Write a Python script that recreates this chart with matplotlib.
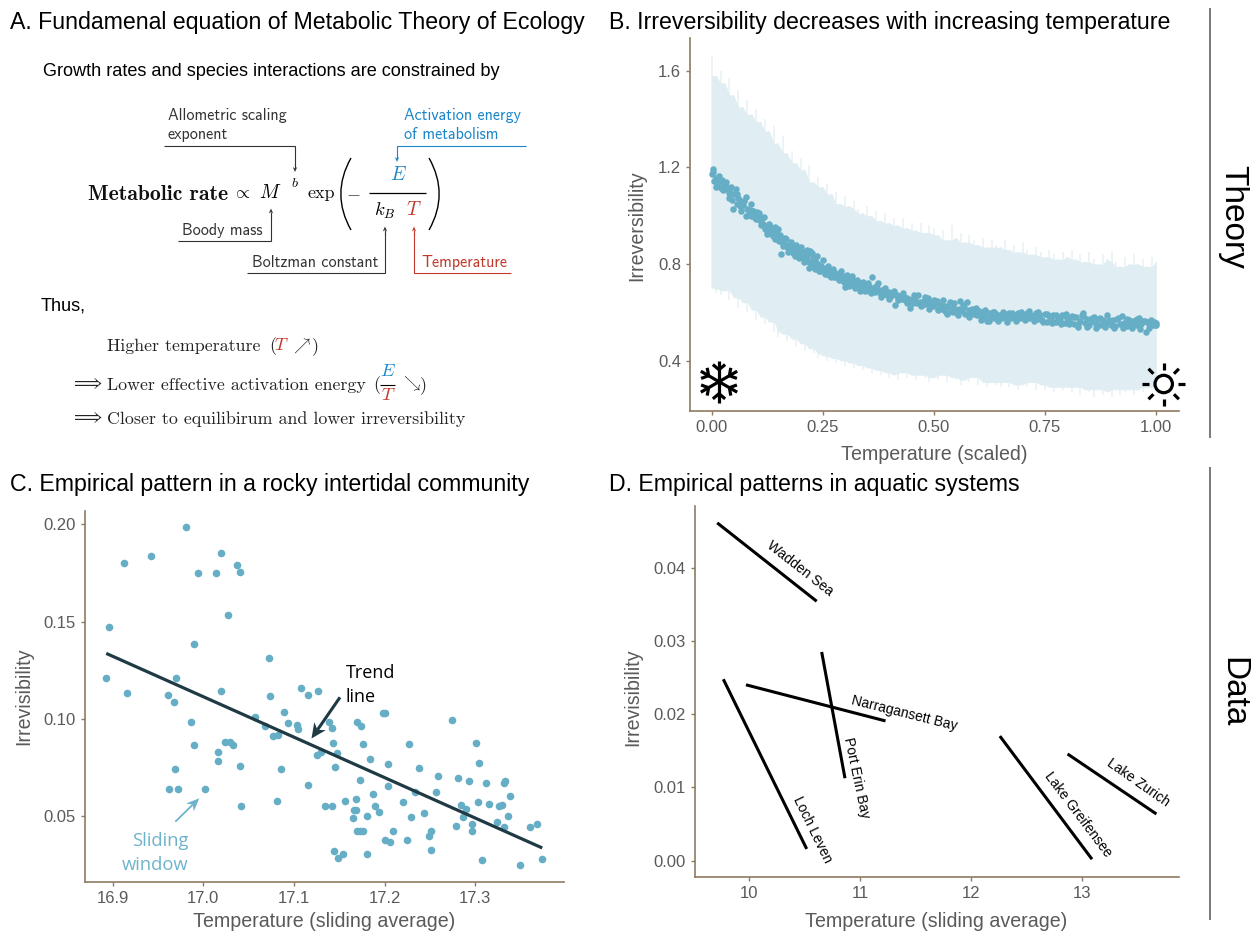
import numpy as np
import matplotlib
matplotlib.use("Agg")
import matplotlib.pyplot as plt
from matplotlib.path import Path
from matplotlib.patches import PathPatch, Circle, Polygon

plt.rcParams['font.family'] = ['Liberation Sans', 'DejaVu Sans']
plt.rcParams['mathtext.fontset'] = 'cm'

# ---------- Panel B data ----------
ribbon_x = [i / 100 for i in range(101)]
ribbon_upper = [1.66,1.58,1.60,1.55,1.57,1.50,1.52,1.45,1.48,1.42,1.44,1.39,1.40,1.35,1.37,1.30,1.33,1.26,1.27,1.22,
                1.24,1.19,1.21,1.14,1.16,1.12,1.13,1.09,1.10,1.05,1.08,1.04,1.06,1.03,1.01,1.04,1.00,1.02,.98,1.01,
                .97,.99,.96,.99,.95,.97,.94,.97,.93,.96,.95,.92,.94,.90,.96,.91,.93,.89,.92,.90,
                .88,.91,.87,.90,.88,.87,.90,.86,.88,.85,.89,.86,.84,.87,.85,.83,.86,.84,.82,.85,
                .83,.86,.82,.84,.81,.85,.82,.80,.84,.82,.85,.81,.79,.83,.80,.84,.80,.82,.79,.83,.81]
ribbon_lower = [.70,.68,.67,.69,.65,.66,.62,.64,.60,.61,.57,.58,.55,.56,.52,.50,.51,.48,.49,.46,
                .47,.44,.45,.43,.41,.42,.40,.41,.39,.40,.38,.39,.37,.38,.36,.37,.35,.36,.34,.35,
                .33,.34,.32,.35,.33,.34,.32,.34,.33,.31,.33,.32,.34,.31,.33,.32,.30,.32,.31,.33,
                .30,.31,.29,.31,.30,.29,.31,.29,.30,.28,.30,.29,.31,.28,.30,.28,.29,.27,.29,.28,
                .29,.27,.29,.26,.28,.27,.25,.28,.26,.27,.25,.28,.26,.27,.28,.26,.28,.27,.29,.28,.29]
theory_x = [.000,.002,.004,.006,.009,.012,.014,.018,.021,.024,.028,.031,.035,.038,.042,.046,.049,.051,.054,.056,
            .060,.063,.067,.070,.0765,.080,.083,.086,.089,.092,.095,.098,.101,.104,.107,.110,.113,.116,.119,.122,
            .125,.128,.131,.134,.137,.140,.143,.146,.149,.152,.155,.158,.161,.164,.167,.170,.173,.176,.179,.182,
            .185,.188,.191,.194,.197,.200,.203,.206,.209,.212,.215,.218,.221,.224,.227,.230,.233,.236,.239,.242,
            .245,.248,.251,.254,.257,.260,.263,.266,.269,.272,.275,.278,.281,.284,.287,.290,.293,.296,.300,.303,
            .306,.309,.312,.315,.318,.321,.324,.327,.330,.333,.336,.339,.342,.345,.348,.351,.354,.357,.360,.364,
            .368,.372,.375,.379,.383,.387,.391,.395,.399,.403,.407,.410,.413,.416,.420,.424,.428,.432,.436,.440,
            .443,.446,.450,.454,.458,.462,.465,.469,.473,.477,.481,.484,.487,.491,.495,.499,.503,.506,.510,.514,
            .518,.522,.526,.530,.533,.536,.540,.544,.548,.552,.556,.559,.563,.567,.570,.574,.578,.582,.586,.590,
            .594,.598,.602,.606,.610,.614,.620,.624,.628,.632,.636,.640,.644,.649,.654,.659,.664,.669,.674,.679,
            .684,.689,.694,.699,.704,.709,.714,.719,.724,.729,.734,.739,.744,.749,.754,.759,.764,.769,.774,.779,
            .784,.789,.794,.798,.802,.806,.811,.816,.820,.825,.830,.833,.836,.840,.845,.850,.855,.860,.865,.870,
            .875,.880,.885,.889,.893,.898,.903,.908,.913,.918,.924,.929,.934,.939,.944,.949,.954,.958,.961,.966,
            .971,.977,.980,.984,.988,.991,.994,.997,1.000,1.001]
theory_y = [1.172,1.180,1.192,1.145,1.155,1.130,1.150,1.140,1.115,1.148,1.125,1.110,1.120,1.095,1.100,1.065,1.030,1.090,1.110,1.050,
            1.075,1.040,1.060,1.045,1.078,1.030,1.010,1.025,1.000,1.020,1.005,.990,1.015,.985,1.000,.975,.990,.965,.945,.955,
            .940,.960,.930,.950,.915,.935,.905,.925,.945,.895,.840,.890,.900,.880,.905,.870,.880,.865,.872,.855,
            .870,.835,.860,.845,.850,.830,.855,.825,.845,.815,.835,.785,.854,.800,.825,.790,.815,.785,.800,.770,
            .790,.775,.785,.765,.780,.760,.775,.752,.765,.770,.745,.765,.748,.760,.742,.755,.735,.750,.705,.745,
            .728,.740,.722,.735,.715,.732,.710,.728,.705,.720,.700,.715,.698,.712,.695,.708,.690,.705,.745,.695,
            .685,.700,.722,.680,.692,.675,.688,.670,.685,.668,.680,.675,.629,.672,.660,.668,.655,.665,.650,.660,
            .645,.618,.655,.640,.650,.638,.673,.645,.632,.648,.635,.642,.661,.630,.645,.628,.640,.647,.615,.632,
            .612,.628,.605,.625,.600,.645,.618,.600,.615,.598,.612,.647,.605,.622,.595,.642,.610,.600,.612,.592,
            .608,.590,.606,.585,.602,.580,.563,.598,.585,.600,.578,.594,.582,.590,.576,.592,.580,.596,.578,.590,
            .582,.598,.576,.592,.584,.596,.578,.590,.582,.598,.574,.588,.568,.592,.560,.585,.572,.590,.562,.578,
            .570,.588,.558,.595,.572,.560,.584,.554,.580,.550,.566,.590,.597,.558,.572,.548,.566,.582,.552,.574,
            .546,.570,.552,.588,.560,.548,.568,.544,.572,.550,.587,.556,.544,.570,.548,.564,.546,.572,.578,.552,
            .566,.518,.562,.552,.570,.546,.560,.548,.556,.549]
theory_x2 = [.010,.016,.026,.033,.040,.044,.058,.065,.072,.078,.088,.094,.100,.106,.112,.118,.124,.130,.136,.142,
             .148,.154,.160,.166,.172,.178,.184,.190,.196,.202,.208,.214,.220,.226,.232,.238,.244,.250,.256,.262,
             .268,.274,.280,.286,.292,.298,.304,.310,.316,.322,.328,.334,.340,.346,.352,.358,.370,.380,.390,.400,
             .410,.420,.430,.440,.455,.470,.480,.490,.500,.510,.520,.530,.545,.555,.565,.580,.595,.605,.615,.625,
             .635,.645,.655,.665,.675,.685,.695,.705,.715,.725,.735,.745,.755,.765,.775,.785,.795,.805,.815,.825,
             .835,.845,.855,.865,.875,.885,.895,.905,.915,.925,.935,.945,.955,.965,.975,.985,.995]
theory_y2 = [1.120,1.165,1.105,1.140,1.075,1.120,1.090,1.020,1.060,1.000,1.048,1.020,.985,1.010,.960,.995,.925,.965,.925,.955,
             .905,.920,.875,.910,.850,.890,.845,.880,.825,.870,.810,.860,.810,.845,.780,.835,.770,.815,.760,.790,
             .745,.780,.745,.735,.770,.725,.755,.710,.750,.700,.735,.690,.725,.690,.720,.680,.710,.665,.700,.655,
             .690,.650,.680,.640,.670,.625,.665,.615,.650,.610,.650,.595,.640,.590,.630,.580,.620,.570,.610,.565,
             .600,.565,.600,.560,.597,.565,.600,.570,.605,.565,.600,.560,.595,.555,.590,.550,.585,.550,.580,.540,
             .585,.540,.575,.535,.575,.540,.570,.535,.575,.535,.572,.535,.570,.530,.565,.535,.560]
temp_ticks_b = [0.0, 0.25, 0.5, 0.75, 1.0]
temp_labels_b = ['0.00', '0.25', '0.50', '0.75', '1.00']
irr_ticks_b = [0.4, 0.8, 1.2, 1.6]
irr_labels_b = ['0.4', '0.8', '1.2', '1.6']

# ---------- Panel C data ----------
rocky_x = [16.981,16.942,16.913,17.020,17.037,17.041,16.994,17.014,17.027,16.896,16.990,17.072,16.893,16.970,16.916,16.961,
           16.968,17.020,17.074,17.108,17.116,17.127,17.057,17.089,17.093,16.986,17.103,17.104,17.068,17.077,17.083,16.990,
           17.024,17.029,17.033,17.016,17.016,16.969,17.041,17.086,17.116,16.962,16.972,17.002,17.081,17.042,17.134,17.126,
           17.130,17.139,17.142,17.143,17.148,17.145,17.142,17.156,17.168,17.166,17.169,17.165,17.181,17.187,17.190,17.194,
           17.173,17.170,17.174,17.176,17.184,17.198,17.200,17.204,17.204,17.227,17.238,17.259,17.234,17.257,17.220,17.229,
           17.243,17.209,17.170,17.173,17.176,17.201,17.206,17.225,17.251,17.249,17.251,17.144,17.149,17.154,17.181,17.274,
           17.301,17.304,17.281,17.293,17.312,17.333,17.332,17.338,17.303,17.315,17.326,17.330,17.284,17.290,17.287,17.279,
           17.296,17.297,17.324,17.332,17.336,17.360,17.368,17.308,17.349,17.374]
rocky_y = [.1985,.1840,.1800,.1855,.1790,.1757,.1752,.1752,.1533,.1474,.1387,.1313,.1210,.1209,.1132,.1123,
           .1087,.1142,.1116,.1158,.1122,.1144,.1012,.1036,.0981,.0983,.0967,.0949,.0966,.0914,.0918,.0868,
           .0884,.0884,.0868,.0829,.0784,.0743,.0757,.0743,.0661,.0639,.0639,.0639,.0580,.0553,.0553,.0813,
           .0832,.0983,.0952,.0878,.0824,.0752,.0555,.0579,.0589,.0534,.0532,.0490,.0503,.0613,.0553,.0522,
           .0685,.0983,.0966,.0870,.0793,.1029,.1029,.0767,.0656,.0870,.0746,.0707,.0627,.0627,.0575,.0496,
           .0519,.0423,.0424,.0424,.0423,.0376,.0368,.0376,.0423,.0399,.0327,.0323,.0287,.0305,.0305,.0993,
           .0875,.0774,.0699,.0681,.0671,.0681,.0671,.0606,.0573,.0565,.0553,.0560,.0558,.0536,.0495,.0452,
           .0459,.0423,.0469,.0445,.0502,.0443,.0460,.0274,.0250,.0282]
trend_x = [16.893, 17.374]
trend_y = [.1337, .0337]
temp_ticks_c = [16.9, 17.0, 17.1, 17.2, 17.3]
temp_labels_c = ['16.9', '17.0', '17.1', '17.2', '17.3']
irr_ticks_c = [.05, .10, .15, .20]
irr_labels_c = ['0.05', '0.10', '0.15', '0.20']

# ---------- Panel D data ----------
system_names = ['Wadden Sea', 'Loch Leven', 'Narragansett Bay', 'Port Erin Bay', 'Lake Greifensee', 'Lake Zurich']
system_x = [[9.714, 10.61], [9.769, 10.52], [9.973, 11.23], [10.655, 10.865], [12.26, 13.09], [12.87, 13.67]]
system_y = [[.0461, .0354], [.02476, .0016], [.0240, .01907], [.02848, .01125], [.0170, .0002], [.01456, .00637]]
label_x = [10.46, 10.57, 11.40, 10.97, 12.96, 13.51]
label_y = [.0399, .00419, .02004, .01129, .0063, .01058]
label_rot = [-38, -64, -14, -78, -53, -35]
temp_ticks_d = [10, 11, 12, 13]
temp_labels_d = ['10', '11', '12', '13']
irr_ticks_d = [0, .01, .02, .03, .04]
irr_labels_d = ['0.00', '0.01', '0.02', '0.03', '0.04']

# ---------- Styles ----------
W, H = 1252, 932
SPINE = '#8F7A62'
TICK_TXT = '#5A5A5A'
POINT = '#66AEC5'
RIBBON = '#E0EDF2'
SPIKE = '#EAF3F6'
DARK = '#1F3A44'
BLUE = '#1A85C8'
RED = '#C0392B'
SLIDE = '#6DB3CB'
GREY = '#333333'
INK = '#222222'

fig = plt.figure(figsize=(W / 100, H / 100), dpi=100, facecolor='white')


def make_axes(l, t, r, b, xlim, ylim, xt, xl, yt, yl):
    ax = fig.add_axes([l / W, 1 - b / H, (r - l) / W, (b - t) / H])
    ax.set_xlim(*xlim)
    ax.set_ylim(*ylim)
    for s in ('top', 'right'):
        ax.spines[s].set_visible(False)
    for s in ('left', 'bottom'):
        ax.spines[s].set_color(SPINE)
        ax.spines[s].set_linewidth(1.2)
    ax.set_xticks(xt, xl)
    ax.set_yticks(yt, yl)
    ax.tick_params(length=3, width=1.0, color=SPINE, labelcolor=TICK_TXT, labelsize=12, pad=3.5)
    return ax


ov = fig.add_axes([0, 0, 1, 1], zorder=10)
ov.set_xlim(0, W)
ov.set_ylim(H, 0)
ov.axis('off')
ov.patch.set_alpha(0)


def axis_labels(ax, xlabel, xpos, ylabel, ypos):
    ax.set_xlabel(xlabel, fontsize=14.1, color=TICK_TXT, va='center', ha='center')
    ax.xaxis.set_label_coords(xpos[0], xpos[1], transform=ov.transData)
    ax.set_ylabel(ylabel, fontsize=14.1, color=TICK_TXT, va='center', ha='center')
    ax.yaxis.set_label_coords(ypos[0], ypos[1], transform=ov.transData)


def T(x, y, s, size=10, color='black', family=None, ha='left', va='center', rot=0, **kw):
    if family:
        kw['family'] = family
    return ov.text(x, y, s, fontsize=size, color=color, ha=ha, va=va, rotation=rot, **kw)


def L(xs, ys, color='black', lw=0.8):
    ov.plot(xs, ys, color=color, lw=lw, solid_capstyle='butt', solid_joinstyle='miter')


def stealth(p0, p1, color, lw, length, width, notch=0.3):
    """Line ending in a swept arrowhead (pixel units)."""
    p0, p1 = np.array(p0, float), np.array(p1, float)
    u = (p1 - p0) / np.hypot(*(p1 - p0))
    n = np.array([-u[1], u[0]])
    base = p1 - u * length
    inner = p1 - u * length * (1 - notch)
    L([p0[0], inner[0]], [p0[1], inner[1]], color, lw)
    ov.add_patch(Polygon([p1, base + n * width, inner, base - n * width], closed=True, fc=color, ec='none'))


# ---------- Panel titles ----------
TS = 16.65
T(10, 23, 'A. Fundamenal equation of Metabolic Theory of Ecology', TS)
T(609, 23, 'B. Irreversibility decreases with increasing temperature', TS)
T(10, 485, 'C. Empirical pattern in a rocky intertidal community', TS)
T(609, 485, 'D. Empirical patterns in aquatic systems', TS)

# ---------- Panel A ----------
T(43, 72, 'Growth rates and species interactions are constrained by', 13.1)
T(41, 306, 'Thus,', 13.1)

CS = 'cmss10'
CR = 'cmr10'
AS = 11.55
RS = 12.9
T(168, 115.5, 'Allometric scaling', AS, GREY, CS)
T(168, 135, 'exponent', AS, GREY, CS)
L([164, 295, 295], [146, 146, 166], GREY)
stealth((295, 164), (295, 172), GREY, 0.8, 5, 2.2)

T(404.5, 115.5, 'Activation energy', AS, BLUE, CS)
T(404.5, 134.5, 'of metabolism', AS, BLUE, CS)
L([526, 397, 397], [145.5, 145.5, 156], BLUE)
stealth((397, 154), (397, 162), BLUE, 0.8, 5, 2.2)

T(88, 194.5, 'Metabolic rate', 15.6, '#111111', 'cmb10')
T(241, 194, r'$\propto$', 13, ha='center')
T(270, 193.5, r'$M$', 14, ha='center')
T(294.6, 183, r'$b$', 10, ha='center')
T(307, 193.5, 'exp', 13, '#111111', CR)
T(353, 194, r'$-$', 13, ha='center', color='#333333')
L([368.5, 426], [193, 193], 'black', 0.9)
T(398, 175, r'$E$', 14, BLUE, ha='center')
T(385, 211, r'$k_B$', 13.5, ha='center')
T(414, 210, r'$T$', 14, RED, ha='center')
for x0, cx in ((351, 337.5), (429, 442.5)):
    ov.add_patch(PathPatch(Path([(x0, 158), (cx, 182), (cx, 206), (x0, 230)],
                                [Path.MOVETO, Path.CURVE4, Path.CURVE4, Path.CURVE4]),
                           fc='none', ec='black', lw=1.0))

T(182, 230, 'Boody mass', AS, GREY, CS)
L([178, 271, 271], [241, 241, 215], GREY)
stealth((271, 217), (271, 208.5), GREY, 0.8, 5, 2.2)
T(252, 262.5, 'Boltzman constant', AS, GREY, CS)
L([247, 385, 385], [273, 273, 233], GREY)
stealth((385, 235), (385, 226.5), GREY, 0.8, 5, 2.2)
T(421, 262.5, 'Temperature', AS, RED, CS)
L([511, 414, 414], [273, 273, 233], RED)
stealth((414, 235), (414, 226.5), RED, 0.8, 5, 2.2)

T(107, 346.5, 'Higher temperature', RS, INK, CR)
T(269, 346.5, '(', RS, INK, CR)
T(281, 346, r'$T$', 13, RED, ha='center')
T(302, 345.5, r'$\nearrow$', 12, ha='center', color=INK)
T(318.5, 346.5, ')', RS, INK, CR, ha='right')
T(86, 384, r'$\Longrightarrow$', 13, ha='center', color=INK)
T(107, 385, 'Lower effective activation energy', RS, INK, CR)
T(373, 385, '(', RS, INK, CR)
L([380, 395], [384.5, 384.5], 'black', 0.8)
T(388, 371, r'$E$', 13, BLUE, ha='center')
T(388, 396, r'$T$', 13, RED, ha='center')
T(411.5, 384, r'$\searrow$', 12, ha='center', color=INK)
T(427, 385, ')', RS, INK, CR, ha='right')
T(86, 418, r'$\Longrightarrow$', 13, ha='center', color=INK)
T(107, 419, 'Closer to equilibirum and lower irreversibility', RS, INK, CR)

# ---------- Panel B ----------
axb = make_axes(690, 38, 1178.7, 410.7, (-.0488, 1.051), (.193, 1.736),
                temp_ticks_b, temp_labels_b, irr_ticks_b, irr_labels_b)
up = np.array(ribbon_upper)
lo = np.array(ribbon_lower)
core_up = np.minimum.reduce([up, np.r_[up[1:], up[-1]], np.r_[up[0], up[:-1]]])
core_lo = np.maximum.reduce([lo, np.r_[lo[1:], lo[-1]], np.r_[lo[0], lo[:-1]]])
axb.vlines(ribbon_x, ribbon_lower, ribbon_upper, color=SPIKE, lw=1.3, zorder=1)
axb.fill_between(ribbon_x, core_lo, core_up, color=RIBBON, lw=0, zorder=1.5)
axb.scatter(theory_x + theory_x2, theory_y + theory_y2, s=22, color=POINT, linewidths=0, zorder=2)
axis_labels(axb, 'Temperature (scaled)', (934, 455), 'Irreversibility', (637, 226))

# snowflake
cx, cy = 719, 381.7
for a in np.deg2rad([90, 30, -30, -90, 150, 210]):
    d = np.array([np.cos(a), -np.sin(a)])
    L([cx, cx + 21 * d[0]], [cy, cy + 21 * d[1]], 'black', 2.3)
    for da in (np.pi / 3.6, -np.pi / 3.6):
        e = np.array([np.cos(a + da), -np.sin(a + da)])
        p = np.array([cx, cy]) + 12 * d
        q = p + 8 * e
        L([p[0], q[0]], [p[1], q[1]], 'black', 2.3)
# sun
cx, cy = 1163.7, 384
ov.add_patch(Circle((cx, cy), 8.7, fc='none', ec='black', lw=2.3))
for a in np.deg2rad(np.arange(0, 360, 45)):
    L([cx + 14.5 * np.cos(a), cx + 21.5 * np.cos(a)], [cy + 14.5 * np.sin(a), cy + 21.5 * np.sin(a)], 'black', 2.3)

# ---------- Panel C ----------
axc = make_axes(84.5, 511, 564, 882, (16.869, 17.398), (.0162, .2069),
                temp_ticks_c, temp_labels_c, irr_ticks_c, irr_labels_c)
axc.scatter(rocky_x, rocky_y, s=30, color=POINT, linewidths=0, zorder=2)
axc.plot(trend_x, trend_y, color=DARK, lw=2.3, solid_capstyle='butt', zorder=3)
axis_labels(axc, 'Temperature (sliding average)', (324, 921.5), 'Irrevisibility', (24, 696))

T(345.7, 673.5, 'Trend', 13, 'black', 'Open Sans')
T(345.7, 697.5, 'line', 13, 'black', 'Open Sans')
stealth((340, 697.3), (311.5, 738.5), DARK, 2.2, 15, 7)
T(188, 841.5, 'Sliding', 13.2, SLIDE, 'Open Sans', ha='right')
T(188, 864.5, 'window', 13.2, SLIDE, 'Open Sans', ha='right')
stealth((175.3, 821.7), (199.3, 798.3), SLIDE, 1.3, 13, 5.5)

# ---------- Panel D ----------
axd = make_axes(695, 506, 1178.7, 877.3, (9.514, 13.871), (-.00227, .0484),
                temp_ticks_d, temp_labels_d, irr_ticks_d, irr_labels_d)
for i, name in enumerate(system_names):
    axd.plot(system_x[i], system_y[i], color='black', lw=2.2, solid_capstyle='butt')
    axd.text(label_x[i], label_y[i], name, fontsize=10, ha='center', va='center',
             rotation=label_rot[i], rotation_mode='anchor')
axis_labels(axd, 'Temperature (sliding average)', (936, 921.5), 'Irrevisibility', (633, 697))

# ---------- Right strips ----------
L([1209.7, 1209.7], [8, 438], '#555555', 1.1)
L([1209.7, 1209.7], [467, 920], '#555555', 1.1)
T(1233, 217, 'Theory', 24, 'black', ha='center', rot=-90)
T(1233, 692, 'Data', 24, 'black', ha='center', rot=-90)

fig.savefig('out.png', dpi=100)
